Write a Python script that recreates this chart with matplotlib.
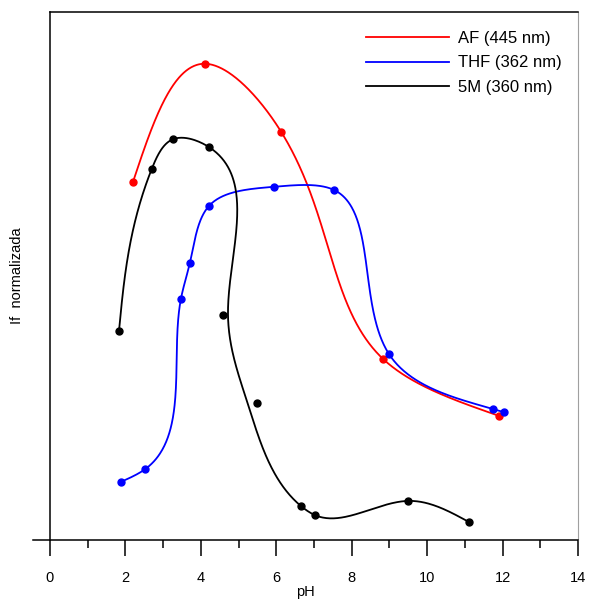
import numpy as np
import matplotlib
matplotlib.use("Agg")
import matplotlib.pyplot as plt

plt.rcParams['font.family'] = ['Liberation Sans', 'DejaVu Sans']

# values (pH, normalised fluorescence)
af_ph = [2.20, 4.11, 6.13, 8.83, 11.91]
af_if = [0.678, 0.902, 0.773, 0.343, 0.235]

thf_ph = [1.88, 2.52, 3.47, 3.71, 4.22, 5.94, 7.53, 8.99, 11.75, 12.04]
thf_if = [0.110, 0.134, 0.456, 0.525, 0.633, 0.669, 0.663, 0.352, 0.248, 0.242]

m5_ph = [1.83, 2.70, 3.26, 4.22, 4.59, 5.49, 6.66, 7.03, 9.49, 11.11]
m5_if = [0.396, 0.703, 0.759, 0.744, 0.426, 0.259, 0.064, 0.047, 0.074, 0.034]
# the 5M curve in the original misses two of its points: knots of the drawn line
m5_curve_ph = [1.83, 2.70, 3.26, 4.22, 4.72, 5.24, 6.66, 7.03, 9.49, 11.11]

labels = ['AF (445 nm)', 'THF (362 nm)', '5M (360 nm)']
colors = ['#ff0000', '#0000ff', '#000000']


def natural_spline(t, v, tt):
    # natural cubic spline of v(t), evaluated at tt
    t = np.asarray(t, float)
    v = np.asarray(v, float)
    n = len(t)
    h = np.diff(t)
    A = np.zeros((n, n))
    b = np.zeros(n)
    A[0, 0] = A[-1, -1] = 1
    for i in range(1, n - 1):
        A[i, i - 1] = h[i - 1]
        A[i, i] = 2 * (h[i - 1] + h[i])
        A[i, i + 1] = h[i]
        b[i] = 6 * ((v[i + 1] - v[i]) / h[i] - (v[i] - v[i - 1]) / h[i - 1])
    M = np.linalg.solve(A, b)
    k = np.clip(np.searchsorted(t, tt) - 1, 0, n - 2)
    dt = tt - t[k]
    hk = h[k]
    a = (M[k + 1] - M[k]) / (6 * hk)
    c = (v[k + 1] - v[k]) / hk - hk * (2 * M[k] + M[k + 1]) / 6
    return v[k] + c * dt + M[k] / 2 * dt ** 2 + a * dt ** 3


def smooth(x, y, sx=37.7, sy=528.0):
    # parametric spline through the points, chord length in pixel-like units
    px = np.asarray(x) * sx
    py = np.asarray(y) * sy
    t = np.concatenate([[0], np.cumsum(np.hypot(np.diff(px), np.diff(py)))])
    tt = np.linspace(0, t[-1], 600)
    return natural_spline(t, px, tt) / sx, natural_spline(t, py, tt) / sy


fig = plt.figure(figsize=(5.89, 5.99), dpi=100)
ax = fig.add_axes([33 / 589, 59 / 599, 545 / 589, 528 / 599])

series = [(af_ph, af_if, af_ph), (thf_ph, thf_if, thf_ph), (m5_ph, m5_if, m5_curve_ph)]
for (xs, ys, cx), lab, col in zip(series, labels, colors):
    sx_, sy_ = smooth(cx, ys)
    ax.plot(sx_, sy_, color=col, lw=1.3, label=lab)
    ax.plot(xs, ys, 'o', color=col, ms=5, mec=col)

ax.set_xlim(-0.45, 14)
ax.set_ylim(0, 1)
ax.set_xticks(range(0, 15, 2))
ax.set_xticks(range(1, 15, 2), minor=True)
ax.set_yticks([])
ax.tick_params(axis='x', which='major', length=11.5, width=1.1, pad=11, labelsize=10.5)
ax.tick_params(axis='x', which='minor', length=6, width=1.1)

ax.spines['left'].set_position(('data', 0))
ax.spines['top'].set_bounds(0, 14)
ax.spines['right'].set_color('#a0a0a0')
for s in ['left', 'top', 'bottom']:
    ax.spines[s].set_linewidth(1.1)

ax.set_xlabel('pH', fontsize=10.5, labelpad=0)
fig.text(17 / 589, 1 - 276 / 599, 'If  normalizada', rotation=90,
         ha='center', va='center', fontsize=10.5)

ax.legend(loc='upper left', bbox_to_anchor=(366 / 589, 1 - 31 / 599),
          bbox_transform=fig.transFigure, frameon=False, fontsize=12,
          handlelength=5.0, handletextpad=0.55, labelspacing=0.56,
          borderpad=0, borderaxespad=0)

fig.savefig('out.png', dpi=100)
